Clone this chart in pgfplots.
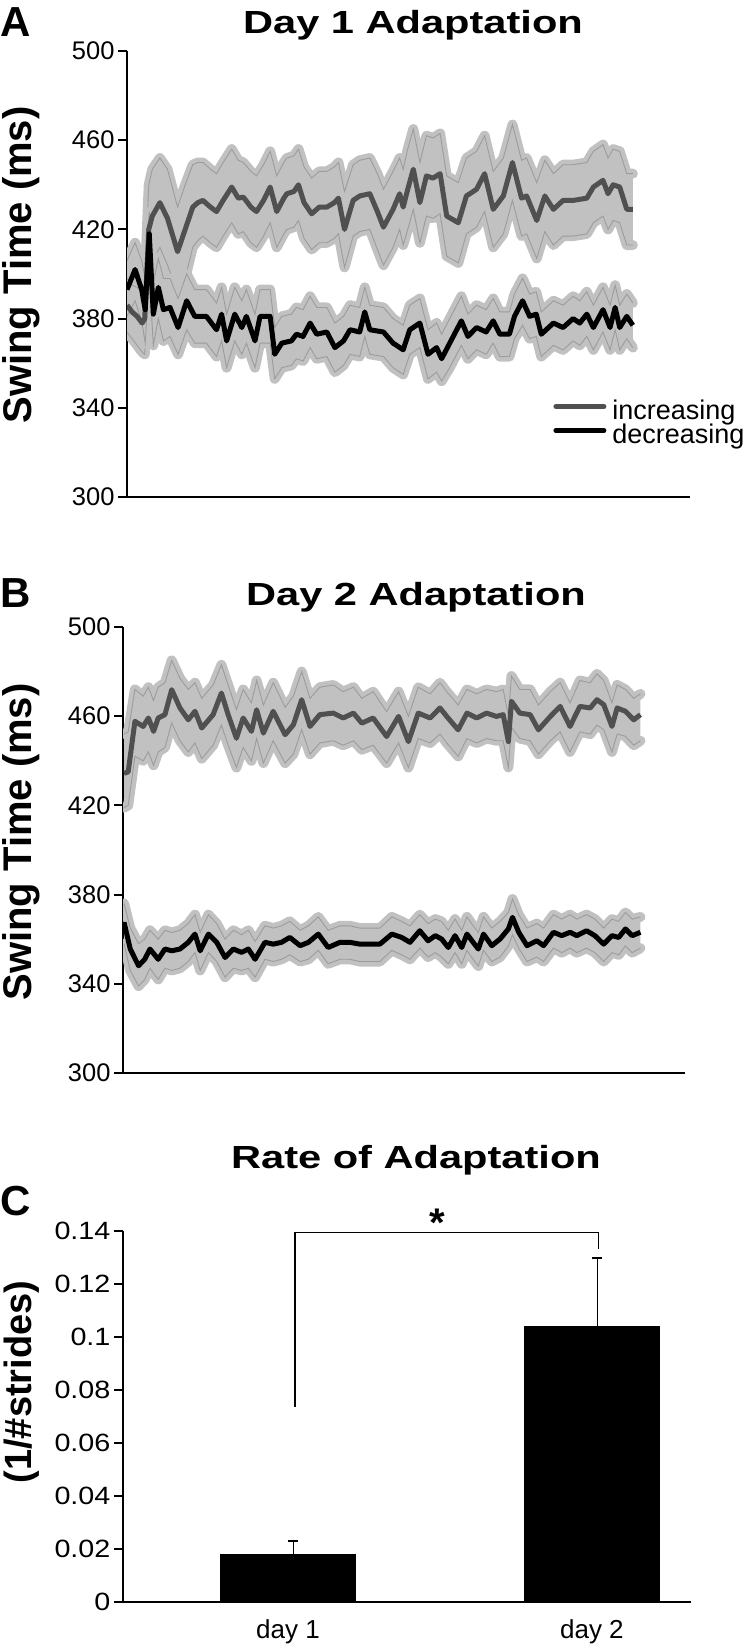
\documentclass[border=0pt]{standalone}
\usepackage{fontspec}
\setmainfont{Liberation Sans}
\newfontfamily\titlefont{Liberation Sans}[FakeStretch=1.3]
\newfontfamily\widefont{Liberation Sans}[FakeStretch=1.15]
\usepackage{pgfplots}
\pgfplotsset{compat=1.18}
\usepgfplotslibrary{fillbetween}
\usepackage{pgfplotstable}

\definecolor{bandgray}{HTML}{C1C1C1}
\definecolor{edgegray}{HTML}{9C9C9C}
\definecolor{incgray}{HTML}{505050}

% Panel A, increasing: stride index, mean, upper, lower
\pgfplotstableread{
x m u l
0 386 398 374
1 383 395 371
2 381 394 368
3 378 392 365
3.5 380 396 364
4.3 420 440 400
5 426 447 406
6.5 432 452 412
8 425 447 404
10 410 430 392
11.5 420 440 398
13 430 449 412
14 432 450 415
15 433 450 417
16.5 430 447 414
17.7 428 445 412
19 433 450 417
20.7 439 456 423
22 434 451 418
23 434.5 450 419
24.5 430 446 414
25.6 428 444 412
27 433 449 417
28.3 439 455 423
29.6 428 444 412
31 434 450 418
31.6 436 452 420
33 437 453 421
33.9 440 456 424
35 432 448 416
36.5 427 443 411
38 430 446 414
39.5 430 446 414
41 432 448 416
41.8 434 450 418
43 420 437 403
44.7 433 449 417
46 435 451 419
48 436 452 420
49.5 428 445 411
50.7 421 438 404
52.6 429 446 412
53.9 436 452 420
54.6 430 447 413
55.5 438 456 420
56.6 447 465 429
57.9 432 450 414
59.2 444 462 426
60.5 443 461 425
61.9 445 463 427
63.2 426 444 408
65.5 423 441 405
67.1 435 452 418
69.1 438 455 421
70.7 445 462 428
72.4 429 446 412
74.4 435 452 418
76.2 450 467 433
78 434 451 417
79 435 452 418
81 424 441 407
82.6 435 451 419
84.3 429 445 413
86.2 433 449 417
88.2 433 449 417
90.9 434 450 418
92.2 439 455 423
94.1 442 458 426
95.1 436 452 420
96.1 440 456 424
97.4 439 455 423
98.8 429 445 413
100 429 445 413
}\AInc

% Panel A, decreasing
\pgfplotstableread{
x m u l
0 393 406 381
1.6 402 414 388
2.9 393 406 379
3.6 384 398 369
4.4 418 428 400
5.2 382 396 368
6.2 394 407 380
7.2 384 398 370
8.5 385 398 372
10.1 376 389 364
11.8 388 400 375
13.4 381 393 369
15.7 381 393 369
17.7 375 387 363
18.7 382 394 370
19.7 370 382 358
21.3 382 394 370
22.7 376 388 364
23.6 381 393 369
25.3 370 382 358
26.3 381 393 369
27.6 381 393 369
28.3 381 393 369
29.2 364 376 353
30.6 369 381 358
32.5 370 382 359
33.5 373 385 362
34.8 372 384 361
36.2 378 390 367
37.5 373 385 362
39.5 374 385 363
41.1 367 378 356
42.8 370 381 359
44.1 375 386 364
46 374 385 363
47 383 394 372
48 375 386 364
50.7 374 385 363
52.6 369 380 358
54.6 366 377 355
55.9 375 386 364
57.9 378 389 367
59.5 364 375 353
61.2 367 378 356
62.2 362 373 352
63.8 369 380 358
66.1 379 390 368
67.4 372 382 362
69.1 376 386 366
71 374 384 364
72.4 379 389 369
73.7 373 383 363
75.6 373 383 363
76.6 381 391 371
78.2 388 398 377
79.6 381 391 371
80.9 382 392 372
81.9 373 383 363
84.3 378 388 368
86.2 376 386 366
88.2 380 390 370
89.5 378 388 368
90.9 382 392 372
92.2 376 386 366
94.1 384 394 374
95.5 376 386 366
96.5 385 395 375
97.4 376 386 366
98.8 381 391 371
100 377 387 367
}\ADec

% Panel B, increasing
\pgfplotstableread{
x m u l
0.2 434.4 452 419
1 435 453 420
2.3 457.7 472 442
3.9 455.4 469 440
4.9 459.2 473 444
5.9 453.2 467 438
6.8 459.2 473 444
8.1 460.7 475 446
9.4 471.9 485 457
11 463.7 477 449
12.6 458.4 472 444
13.9 462.2 475 448
15.2 454.7 468 441
17.4 460.7 474 447
19 470.4 483 456
20.3 460.7 474 447
21.9 450.1 463 437
23.2 459.2 472 446
24.8 453.2 466 440
25.8 462.9 476 450
27.1 452.4 465 439
29 462.2 475 449
31.3 451.7 464 439
32.9 456.2 469 443
34.5 467.4 480 454
36.1 455.4 468 443
38 460.7 473 448
40.6 461.4 474 449
42.5 459.2 471 447
44.5 461.4 473 449
46.1 456.9 468 445
48.3 459.2 471 447
50.9 450.9 462 439
53.2 459.9 471 448
55.1 448.6 460 437
57 461.4 473 450
59.3 459.2 470 448
61.2 463.7 475 452
62.5 459.9 471 448
64.7 453.9 465 442
66.4 461.4 472 450
68.3 459.2 470 448
70.2 461.4 472 450
72.1 459.9 471 449
73.4 460.7 472 449
74.4 448.6 460 437
75 466.7 478 455
76.6 461.4 472 450
78.6 460.7 472 449
80.2 453.9 465 443
82.5 459.9 471 449
84.4 464.4 475 453
86.3 455.4 466 444
88.2 464.4 476 453
90.2 463.7 475 452
91.5 467.4 479 456
92.8 465.2 476 454
94.4 455.4 466 444
95.4 463.7 474 452
97 462.2 472 451
98.6 458.4 468 447
99.9 460.7 470 449
}\BInc

% Panel B, decreasing
\pgfplotstableread{
x m u l
0.2 367.6 376 358
1.4 355.6 365 346
3 348.1 358 339
4.2 351 360 342
5.2 355.6 364 347
6.8 351 360 342
8.1 355.6 364 347
9.4 354.8 363 346
11 355.6 364 347
12.6 358.6 367 350
13.9 362.3 371 354
14.9 354.8 363 346
16.5 362.3 371 354
18.1 358.6 367 350
19.7 351.8 360 343
21.3 355.6 364 347
22.9 354.1 362 346
24.2 355.6 364 347
25.5 351 359 343
27.4 358.6 366 351
29 357.8 365 350
30.6 358.6 366 351
32.2 360.8 368 353
34.2 357.1 364 350
35.8 358.6 366 351
37.7 362.3 370 355
39.6 356.3 364 349
41.9 358.6 366 351
43.8 358.6 366 351
45.7 357.8 365 350
49.6 357.8 365 350
51.9 362.3 370 355
53.8 360.8 368 353
55.4 358.6 366 351
57.3 363.8 371 356
58.9 359.3 367 352
60.3 361.6 369 354
61.5 360.1 368 352
62.8 356.3 364 349
64.1 361.6 369 354
65.4 356.3 364 349
66.4 362.3 370 355
67.6 358.6 366 351
68.6 355.6 363 348
69.6 362.3 370 355
71.2 357.1 365 350
72.8 360.1 368 352
74.4 364.6 372 357
75.2 369.8 378 362
76.4 363.1 371 356
78 357.1 365 350
79.9 359.3 367 352
81.2 357.1 365 350
83.1 363.1 371 356
84.7 361.6 369 354
86.3 363.1 371 356
87.6 361.6 369 354
89.5 363.8 371 356
91.1 361.6 369 354
92.8 357.8 365 350
94.4 361.6 369 354
95.7 360.8 368 353
97 364.6 372 357
98.3 361.6 369 354
99.9 363.1 370 356
}\BDec

\newcommand{\drawband}[2]{%
  \addplot[name path=#2u, bandgray, line width=10pt, line join=round, line cap=round, forget plot] table[x=x,y=u]{#1};
  \addplot[name path=#2l, bandgray, line width=10pt, line join=round, line cap=round, forget plot] table[x=x,y=l]{#1};
  \addplot[bandgray, forget plot] fill between[of=#2u and #2l];
  \addplot[edgegray, line width=0.9pt, forget plot] table[x=x,y=u]{#1};
  \addplot[edgegray, line width=0.9pt, forget plot] table[x=x,y=l]{#1};
}

\pgfplotsset{
  swing/.style={
    anchor=south west, scale only axis, height=446pt,
    ymin=300, ymax=500,
    ytick={300,340,380,420,460,500},
    yticklabels={300,340,380,420,460,500},
    xtick=\empty,
    axis x line*=bottom, axis y line*=left,
    axis line style={line width=2.5pt, black},
    tick align=outside, major tick length=9pt,
    ytick style={line width=2pt, black},
    yticklabel style={font=\fontsize{25.5}{28}\selectfont},
  },
}

\begin{document}
\begin{tikzpicture}

% ---------- Panel A ----------
\begin{axis}[swing, at={(127pt,-497pt)}, width=563pt, xmin=0, xmax=111.3,
  legend style={at={(0.757,0.218)}, anchor=north west, draw=none, fill=none,
    font=\fontsize{27}{29}\selectfont, row sep=3pt, inner sep=0pt,
    nodes={inner sep=0pt}, column sep=6pt},
  legend image code/.code={\draw[#1, line width=5pt, line cap=round] (0pt,4pt) -- (48pt,4pt);},
  legend cell align=left]
\drawband{\AInc}{ai}
\drawband{\ADec}{ad}
\addplot[incgray, line width=5pt, line join=round] table[x=x,y=m]{\AInc};
\addlegendentry{increasing}
\addplot[black, line width=5pt, line join=round] table[x=x,y=m]{\ADec};
\addlegendentry{decreasing}
\end{axis}

% ---------- Panel B ----------
\begin{axis}[swing, at={(123pt,-1073pt)}, width=562pt, xmin=0, xmax=108.5]
\drawband{\BInc}{bi}
\drawband{\BDec}{bd}
\addplot[incgray, line width=5pt, line join=round] table[x=x,y=m]{\BInc};
\addplot[black, line width=5pt, line join=round] table[x=x,y=m]{\BDec};
\end{axis}

% ---------- Panel C ----------
\begin{axis}[anchor=south west, at={(123pt,-1602pt)}, scale only axis,
  width=568pt, height=371pt,
  xmin=0.457, xmax=2.326, ymin=0, ymax=0.14,
  axis x line*=bottom, axis y line*=left,
  axis line style={line width=2.5pt, black},
  tick align=outside, major tick length=9pt,
  ytick={0,0.02,0.04,0.06,0.08,0.1,0.12,0.14},
  yticklabels={0,0.02,0.04,0.06,0.08,0.1,0.12,0.14},
  ytick style={line width=2pt, black},
  yticklabel style={font=\widefont\fontsize{25}{28}\selectfont},
  xtick={1,2}, xticklabels={day 1,day 2},
  xtick style={draw=none},
  xticklabel style={font=\fontsize{26}{28}\selectfont, yshift=-5pt},
  clip=false]
\addplot[ybar, bar width=135pt, fill=black, draw=black] coordinates {(1,0.0181) (2,0.104)};
\addplot[draw=none, mark=none, forget plot,
  error bars/.cd, y dir=plus, y explicit,
  error bar style={draw=black, line width=1.8pt},
  error mark options={draw=black, rotate=90, mark size=5pt, line width=2pt}]
  coordinates {(1.018,0.0181) +- (0,0.0049) (2.018,0.104) +- (0,0.0258)};
\addplot[black, line width=1.1pt, mark=none] coordinates {(1.023,0.0736) (1.023,0.1396) (2.023,0.1396) (2.023,0.1332)};
\end{axis}

% ---------- Text ----------
\node[anchor=base west, inner sep=0pt, font=\bfseries\fontsize{42}{44}\selectfont] at (0pt,-36pt) {A};
\node[anchor=base west, inner sep=0pt, font=\bfseries\fontsize{42}{44}\selectfont] at (0pt,-607pt) {B};
\node[anchor=base west, inner sep=0pt, font=\bfseries\fontsize{42}{44}\selectfont] at (0pt,-1215pt) {C};

\node[anchor=base, inner sep=0pt, font=\titlefont\bfseries\fontsize{32}{36}\selectfont] at (413pt,-33pt) {Day 1 Adaptation};
\node[anchor=base, inner sep=0pt, font=\titlefont\bfseries\fontsize{32}{36}\selectfont] at (416pt,-605pt) {Day 2 Adaptation};
\node[anchor=base, inner sep=0pt, font=\titlefont\bfseries\fontsize{32}{36}\selectfont] at (416pt,-1168pt) {Rate of Adaptation};

\node[rotate=90, anchor=base, inner sep=0pt, font=\bfseries\fontsize{40}{44}\selectfont] at (31pt,-265pt) {Swing Time (ms)};
\node[rotate=90, anchor=base, inner sep=0pt, font=\bfseries\fontsize{40}{44}\selectfont] at (31pt,-842pt) {Swing Time (ms)};
\node[rotate=90, anchor=base, inner sep=0pt, font=\bfseries\fontsize{38}{42}\selectfont] at (31pt,-1382pt) {(1/\#strides)};

\node[anchor=base, inner sep=0pt, font=\bfseries\fontsize{40}{44}\selectfont] at (437pt,-1236pt) {*};

\pgfresetboundingbox
\path[use as bounding box] (0pt,0pt) rectangle (750pt,-1647pt);
\end{tikzpicture}
\end{document}
